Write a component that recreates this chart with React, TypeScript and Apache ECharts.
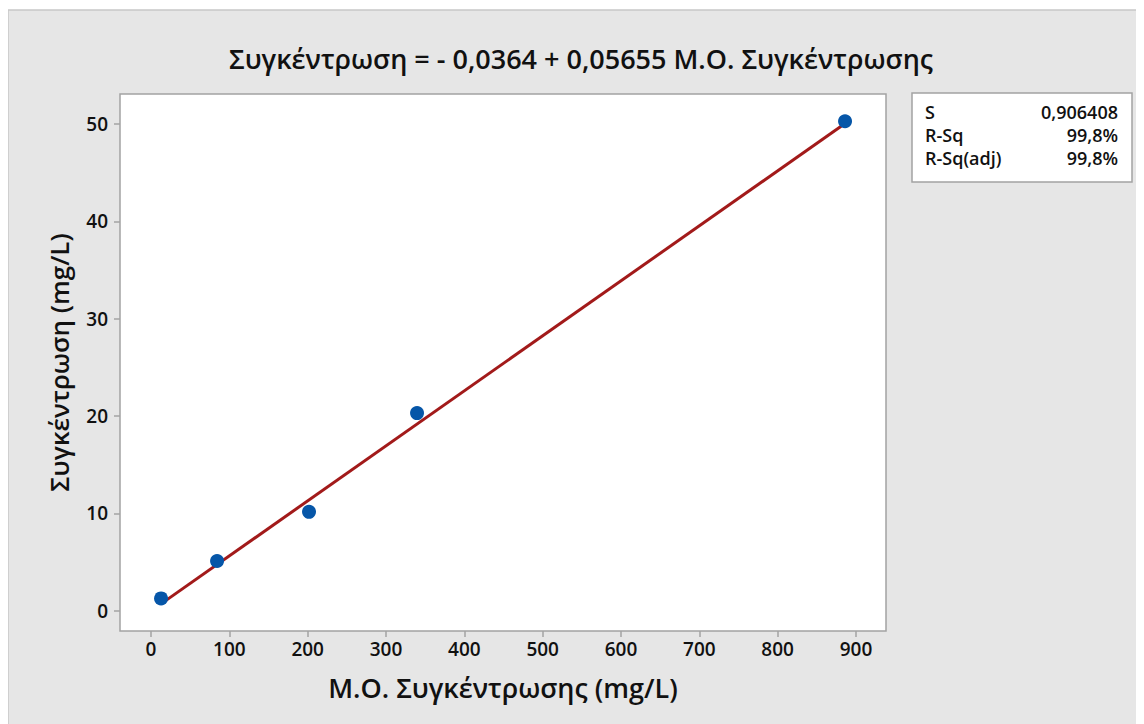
import React, { useEffect, useRef } from "react";
import * as echarts from "echarts";

const titleText = "Συγκέντρωση = - 0,0364 + 0,05655 Μ.Ο. Συγκέντρωσης";
const xAxisName = "Μ.Ο. Συγκέντρωσης (mg/L)";
const yAxisName = "Συγκέντρωση (mg/L)";
const xTicks = [0, 100, 200, 300, 400, 500, 600, 700, 800, 900];
const yTicks = [0, 10, 20, 30, 40, 50];
const xValues = [12.8, 84.3, 201.7, 339.6, 886];
const yValues = [1.25, 5.1, 10.15, 20.3, 50.3];
const fitLine = [
  [12.8, 0.69],
  [886, 50.07],
];
const statLabels = ["S", "R-Sq", "R-Sq(adj)"];
const statValues = ["0,906408", "99,8%", "99,8%"];

const FONT = "'Open Sans', 'Noto Sans', sans-serif";

export default function App() {
  const ref = useRef<HTMLDivElement>(null);
  useEffect(() => {
    if (!ref.current) return;
    const chart = echarts.init(ref.current, undefined, { renderer: "svg" });
    const statTexts: any[] = [];
    statLabels.forEach((l, i) => {
      statTexts.push({
        type: "text",
        x: 917,
        y: 104 + i * 23,
        style: {
          text: l,
          font: `600 18px ${FONT}`,
          fill: "#111",
          verticalAlign: "middle",
          lineHeight: 20,
        },
        z: 10,
      });
      statTexts.push({
        type: "text",
        x: 1110,
        y: 104 + i * 23,
        style: {
          text: statValues[i],
          font: `600 18px ${FONT}`,
          fill: "#111",
          align: "right",
          verticalAlign: "middle",
          lineHeight: 20,
        },
        z: 10,
      });
    });
    chart.setOption({
      animation: false,
      textStyle: { fontFamily: FONT },
      grid: {
        left: 112,
        top: 86,
        right: 258,
        bottom: 93,
        show: true,
        backgroundColor: "#ffffff",
        borderColor: "#a3a3a3",
        borderWidth: 1.5,
        containLabel: false,
      },
      xAxis: {
        type: "value",
        min: -39.6,
        max: 938.3,
        name: xAxisName,
        nameLocation: "middle",
        nameGap: 43,
        nameTextStyle: { fontSize: 27, fontWeight: 600, color: "#111", fontFamily: FONT },
        axisLine: { show: false, onZero: false },
        splitLine: { show: false },
        axisTick: {
          show: true,
          length: 6,
          lineStyle: { color: "#a3a3a3", width: 1.5 },
          customValues: xTicks,
        },
        axisLabel: {
          fontSize: 19,
          fontWeight: 600,
          color: "#111",
          margin: 8,
          customValues: xTicks,
          fontFamily: FONT,
        },
      },
      yAxis: {
        type: "value",
        min: -2.1,
        max: 53.1,
        name: yAxisName,
        nameLocation: "middle",
        nameGap: 48,
        nameRotate: 90,
        nameTextStyle: { fontSize: 26, fontWeight: 600, color: "#111", fontFamily: FONT },
        axisLine: { show: false, onZero: false },
        splitLine: { show: false },
        axisTick: {
          show: true,
          length: 6,
          lineStyle: { color: "#a3a3a3", width: 1.5 },
          customValues: yTicks,
        },
        axisLabel: {
          fontSize: 19,
          fontWeight: 600,
          color: "#111",
          margin: 12,
          customValues: yTicks,
          fontFamily: FONT,
        },
      },
      series: [
        {
          type: "line",
          data: fitLine,
          symbol: "none",
          lineStyle: { color: "#a21a1a", width: 3 },
          z: 2,
        },
        {
          type: "scatter",
          data: xValues.map((x, i) => [x, yValues[i]]),
          symbolSize: 14,
          itemStyle: { color: "#0656a8", opacity: 1 },
          z: 3,
        },
      ],
      graphic: [
        {
          type: "rect",
          shape: { x: 0, y: 2, width: 1136, height: 716 },
          style: { fill: "#e6e6e6", stroke: "#c8c8c8", lineWidth: 1.5 },
          z: -10,
          silent: true,
        },
        {
          type: "text",
          x: 573,
          y: 50,
          style: {
            text: titleText,
            font: `600 27px ${FONT}`,
            fill: "#111",
            align: "center",
            verticalAlign: "middle",
          },
        },
        {
          type: "rect",
          shape: { x: 904, y: 85, width: 220, height: 89 },
          style: { fill: "#ffffff", stroke: "#a3a3a3", lineWidth: 1.5 },
          z: 5,
        },
        ...statTexts,
      ],
    });
    return () => chart.dispose();
  }, []);
  return <div ref={ref} style={{ width: 1136, height: 716 }} />;
}
